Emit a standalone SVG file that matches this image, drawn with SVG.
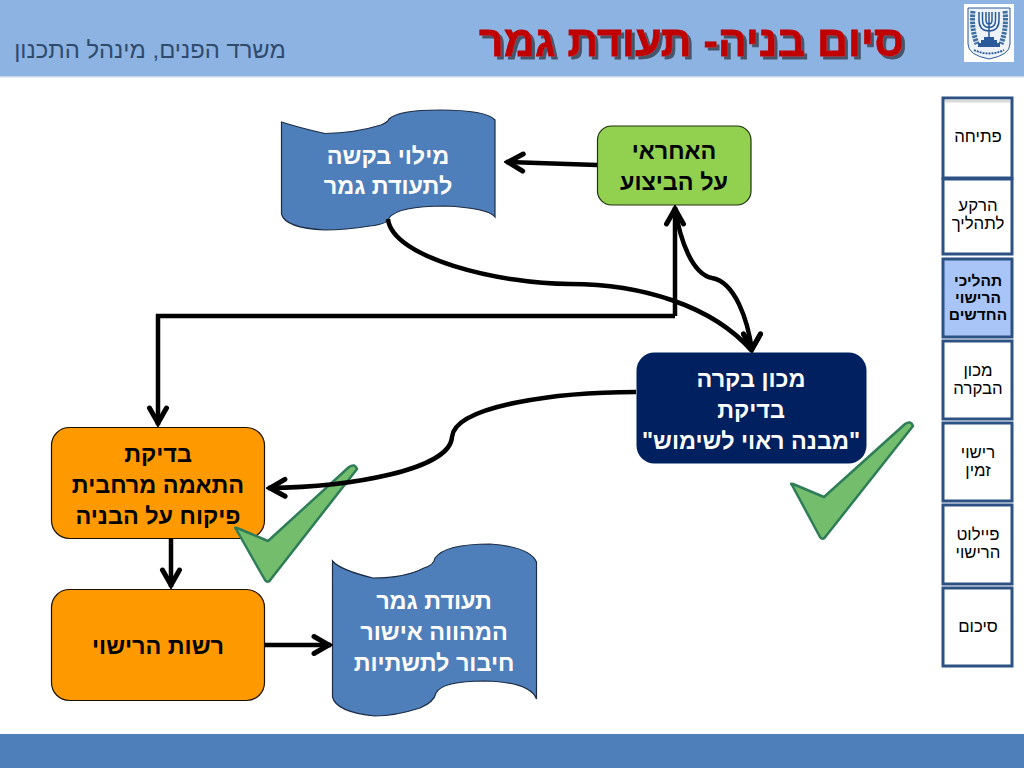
<svg xmlns="http://www.w3.org/2000/svg" width="1024" height="768" viewBox="0 0 1024 768">
<style>
text{font-family:"Liberation Sans","Noto Sans",sans-serif;direction:rtl;text-anchor:middle}
.b{font-weight:bold;font-size:23.4px}
.w{fill:#fff}.k{fill:#000}
.nav{font-size:16.8px;fill:#000}
.navb{font-size:15.5px;font-weight:bold;fill:#000}
.tab{fill:#fff;stroke:#2c5183;stroke-width:3}
.c{fill:none;stroke:#000;stroke-width:4.500}
.o{fill:#ff9900;stroke:#1a1000;stroke-width:1.2}
.d{fill:#4f7fba;stroke:#1c2c44;stroke-width:1.2}
.chk{fill:#74bd6c;stroke:#2f7d58;stroke-width:2.5;stroke-linejoin:round}
</style>
<defs>
<marker id="a" markerUnits="userSpaceOnUse" viewBox="-18 -12 22 24" refX="2" refY="0" markerWidth="22" markerHeight="24" orient="auto">
<path d="M-15,-8.500 L0,0 L-15,8.500" fill="none" stroke="#000" stroke-width="5" stroke-linecap="round"/>
</marker>
<marker id="down" markerUnits="userSpaceOnUse" viewBox="-18 -12 22 24" refX="2" refY="0" markerWidth="22" markerHeight="24" orient="90">
<path d="M-15,-8.500 L0,0 L-15,8.500" fill="none" stroke="#000" stroke-width="5" stroke-linecap="round"/>
</marker>
<filter id="sh" x="-5%" y="-20%" width="110%" height="140%">
<feDropShadow dx="3" dy="3" stdDeviation="0.6" flood-color="#44546a"/>
</filter>
</defs>
<rect width="1024" height="768" fill="#fff"/>
<g id="header">
<rect width="1024" height="76" fill="#8db3e2"/>
<rect y="76" width="1024" height="1.5" fill="#c5d6ec"/>
<text id="title" x="691.500" y="56" font-size="43" font-weight="bold" fill="#c00000" stroke="#c00000" stroke-width="0.800" filter="url(#sh)">סיום בניה- תעודת גמר</text>
<text x="150" y="58" font-size="23.800" fill="#2f4b6e">משרד הפנים, מינהל התכנון</text>
</g>
<g id="emblem">
<rect x="964" y="4" width="50" height="58" fill="#fff"/>
<path d="M968,8H1010V44Q1010,55 989,59Q968,55 968,44Z" fill="#eef3f9" stroke="#2a5a9a" stroke-width="1"/>
<path d="M973,11Q971,28 977,44M1005,11Q1007,28 1001,44" fill="none" stroke="#3f6f9f" stroke-width="5" stroke-dasharray="2.500 1"/>
<path d="M979,12V20Q979,31 989,31Q999,31 999,20V12M982.500,12V20Q982.500,27.500 989,27.500Q995.500,27.500 995.500,20V12M986,12V20Q986,24 989,24Q992,24 992,20V12M989,12V38" fill="none" stroke="#2a5a9a" stroke-width="1.500"/>
<path d="M984,37H994V40H997V43H1000V47H978V43H981V40H984Z" fill="#2a5a9a"/>
<path d="M974,50Q989,57 1004,50" fill="none" stroke="#2a5a9a" stroke-width="1.800" stroke-dasharray="2 1"/>
</g>
<g id="nav">
<g id="nav1"><rect class="tab" x="943" y="98" width="69" height="80"/><rect x="945" y="99.500" width="65" height="3" fill="#d9d9d9"/><text class="nav" x="978" y="142">פתיחה</text></g>
<g id="nav2"><rect class="tab" x="943" y="179" width="69" height="75"/><text class="nav" x="978" y="211">הרקע</text><text class="nav" x="978" y="229">לתהליך</text></g>
<g id="nav3"><rect class="tab" x="943" y="259" width="69" height="78" style="fill:#a9c5f7"/><text class="navb" x="978" y="286">תהליכי</text><text class="navb" x="978" y="303">הרישוי</text><text class="navb" x="978" y="320">החדשים</text></g>
<g id="nav4"><rect class="tab" x="943" y="341" width="69" height="78"/><text class="nav" x="978" y="376">מכון</text><text class="nav" x="978" y="394">הבקרה</text></g>
<g id="nav5"><rect class="tab" x="943" y="423" width="69" height="78"/><text class="nav" x="978" y="458">רישוי</text><text class="nav" x="978" y="476">זמין</text></g>
<g id="nav6"><rect class="tab" x="943" y="505" width="69" height="79"/><text class="nav" x="978" y="540">פיילוט</text><text class="nav" x="978" y="558">הרישוי</text></g>
<g id="nav7"><rect class="tab" x="943" y="588" width="69" height="78"/><text class="nav" x="978" y="632">סיכום</text></g>
</g>
<g id="node-request">
<path class="d" d="M281.500,122Q300,128 325,133.500Q355,133 381,125Q388,122 389,119Q398,110 440,110Q486,110 495,120V217Q488,208 445,206Q398,206 389,218Q388,224 370,226Q345,230 325,230Q285,228 281.500,214Z"/>
<text class="b w" x="388" y="164">מילוי בקשה</text><text class="b w" x="388" y="194">לתעודת גמר</text>
</g>
<g id="node-responsible">
<rect x="597.500" y="126" width="153.500" height="79" rx="14" fill="#92d050" stroke="#1e3010" stroke-width="1.200"/>
<text class="b k" x="674" y="159">האחראי</text><text class="b k" x="674" y="190">על הביצוע</text>
</g>
<g id="node-institute">
<rect x="636.500" y="352.500" width="230" height="111" rx="18" fill="#002060"/>
<text class="b w" x="751" y="387">מכון בקרה</text><text class="b w" x="751" y="418">בדיקת</text><text class="b w" x="751" y="449">"מבנה ראוי לשימוש"</text>
</g>
<g id="node-check">
<rect class="o" x="51.500" y="427.500" width="213" height="111" rx="18"/>
<text class="b k" x="158" y="462">בדיקת</text><text class="b k" x="158" y="493">התאמה מרחבית</text><text class="b k" x="158" y="524">פיקוח על הבניה</text>
</g>
<g id="node-authority">
<rect class="o" x="51.500" y="589.500" width="213" height="111" rx="18"/>
<text class="b k" x="158" y="654">רשות הרישוי</text>
</g>
<g id="node-certificate">
<path class="d" d="M332.500,561Q340,570 373,578Q405,578 424,568Q434,565 435,558Q445,544 490,544Q530,547 536.500,562V699Q530,682 485,681Q442,681 436,693Q434,702 420,708Q395,716 375,716Q336,712 332.500,697Z"/>
<text class="b w" x="434" y="609">תעודת גמר</text><text class="b w" x="434" y="640">המהווה אישור</text><text class="b w" x="434" y="671">חיבור לתשתיות</text>
</g>
<path id="check-right" class="chk" d="M792,485Q790,483 793,484L824,497L905,424Q911,420 913,426L826,536Q823,541 820,537Z"/>
<path id="check-left" class="chk" d="M236,529Q234,527 237,528L268,541L349,467Q355,463 357,469L271,579Q268,584 265,580Z"/>
<g id="connectors">
<path class="c" marker-end="url(#a)" d="M597,165L506,162"/>
<path class="c" marker-end="url(#down)" d="M388,219C392,258 500,284 570,284C640,284 712,305 752,351"/>
<path class="c" marker-end="url(#down)" d="M675,208C680,240 692,274 712,278C735,282 748,320 752,351"/>
<path class="c" marker-end="url(#a)" d="M675,316V207"/>
<path class="c" marker-end="url(#a)" d="M675,316H158V425"/>
<path class="c" marker-end="url(#a)" d="M636,392C560,392 455,405 452,437C450,470 350,487 268,488"/>
<path class="c" marker-end="url(#a)" d="M171,538V587"/>
<path class="c" marker-end="url(#a)" d="M265,645H331"/>
</g>
<rect id="footer" y="734" width="1024" height="34" fill="#4f7fba"/>
</svg>
